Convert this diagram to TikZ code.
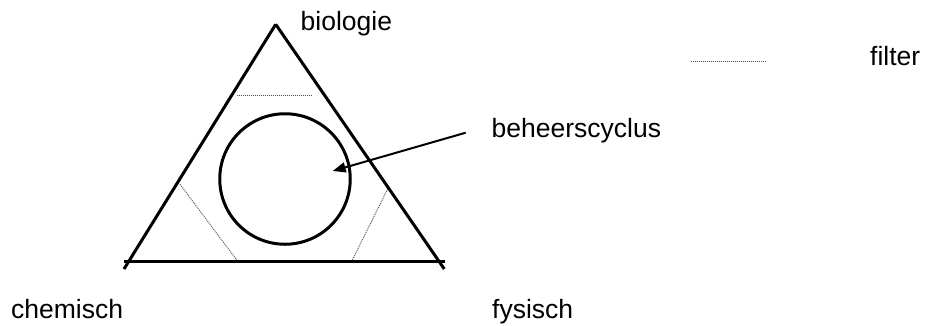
\documentclass[tikz,border=0pt]{standalone}
\usepackage{fontspec}
\setmainfont{Liberation Sans}
\usetikzlibrary{arrows.meta}
\tikzset{
  side/.style={line width=3pt},
  filterline/.style={line width=0.9pt, black!70, dash pattern=on 1pt off 1pt},
  label/.style={anchor=base west, inner sep=0pt, font=\fontsize{26.5}{30}\selectfont},
}
\begin{document}
\begin{tikzpicture}[x=1pt, y=-1pt]
    \useasboundingbox (0,0) rectangle (931,325);
    \coordinate (top) at (275.7,24.3);
    \coordinate (leftend) at (124,269);
    \coordinate (rightend) at (444.3,269);
    \coordinate (baseL) at (124,261.5);
    \coordinate (baseR) at (445,261.5);
    % triangle
    \draw[side] (top) -- (leftend);
    \draw[side] (top) -- (rightend);
    \draw[side] (baseL) -- (baseR);
    % filters
    \draw[filterline] (236.7,95) -- (312.3,95);
    \draw[filterline] (180,184.3) -- (236.7,260);
    \draw[filterline] (387.7,189) -- (352.3,260);
    % cycle
    \node (cycle) [circle, draw, line width=3pt, minimum size=130.5pt, inner sep=0pt] at (285,179) {};
    \coordinate (from) at (465.7,132.7);
    \coordinate (tip) at (332.7,171);
    \draw[line width=2pt, -{Triangle[length=13pt,width=10pt]}] (from) -- (tip);
    % labels
    \node (bio) [label] at (300.5,30.5) {biologie};
    \node (chem) [label] at (11,318) {chemisch};
    \node (fys) [label] at (492,318) {fysisch};
    \node (beheer) [label] at (491.5,137.5) {beheerscyclus};
    % legend
    \coordinate (legA) at (691,61.7);
    \coordinate (legB) at (767,61.7);
    \draw[filterline] (legA) -- (legB);
    \node (filter) [label] at (870,65.5) {filter};
\end{tikzpicture}
\end{document}
